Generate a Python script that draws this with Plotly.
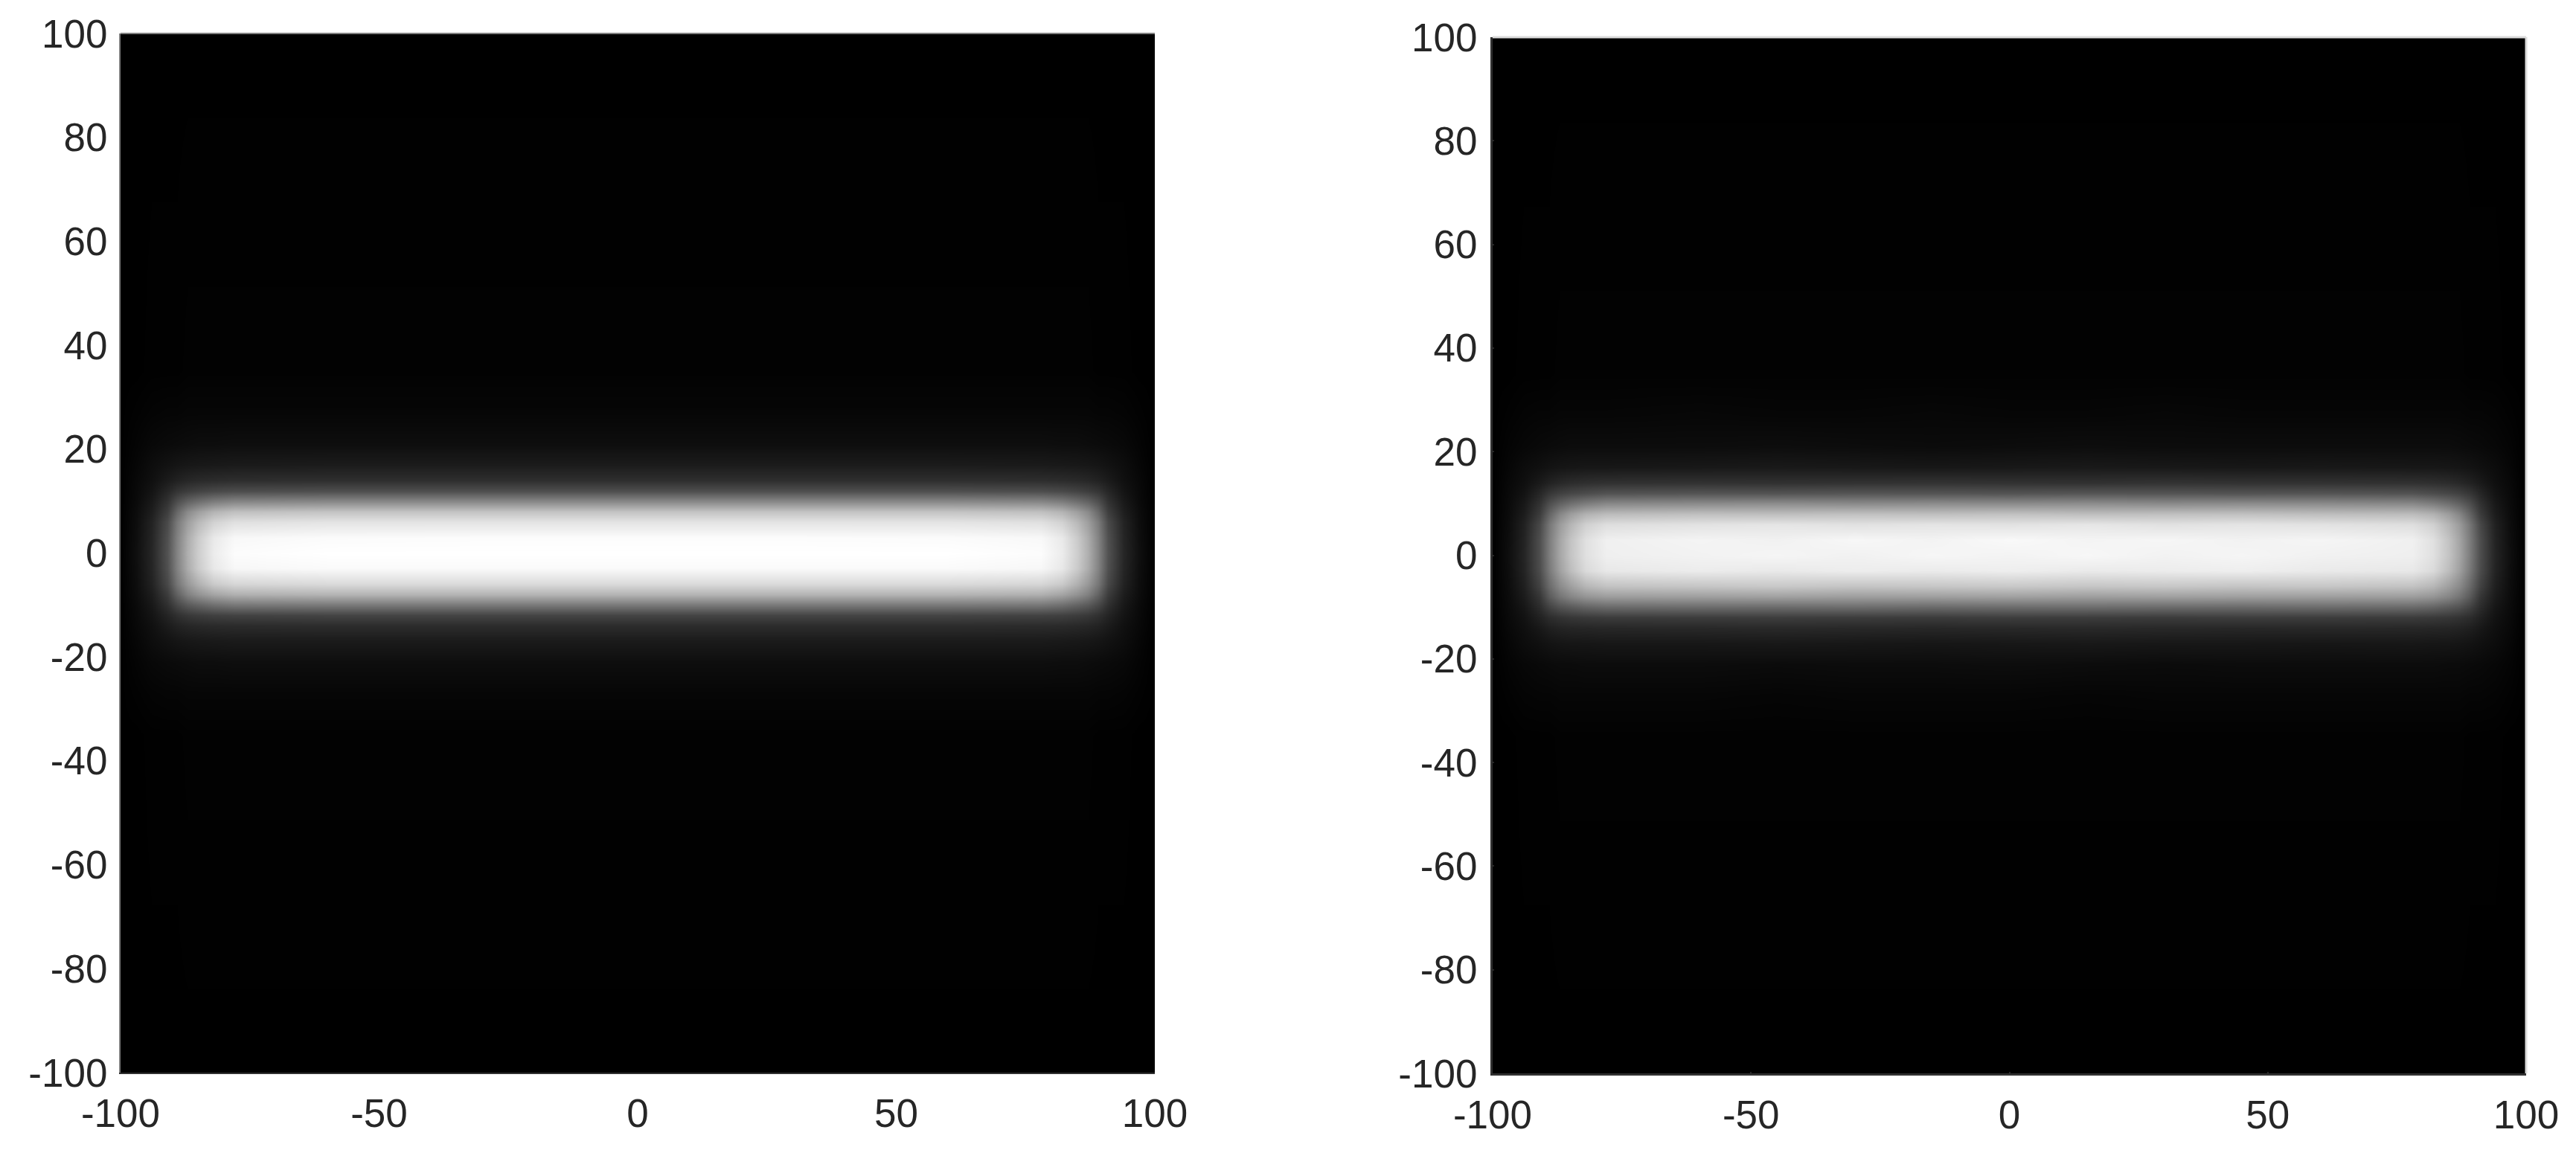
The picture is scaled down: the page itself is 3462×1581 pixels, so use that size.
import plotly.graph_objects as go

# page body adds an 8px margin, so the figure is 16px smaller than the window
W, H = 3446, 1565
PAD = 8

x_ticks = [-100, -50, 0, 50, 100]
y_ticks = [-100, -80, -60, -40, -20, 0, 20, 40, 60, 80, 100]

# grey levels (0-255), rows from y=-100 up to y=100
y_nodes = [-100, -35, -27, -21, -17, -14, -12, -10, -8, -6, -3, 0, 3, 6, 8, 10, 12, 14, 17, 21, 27, 35, 100]

# left panel
left_x = [-100, -97, -94, -91, -89, -87, -85, -82, -78, -60, -30, 0, 30, 60, 78, 82, 85, 87, 89, 91, 94, 97, 100]
left_z = [
    [0, 0, 0, 0, 0, 0, 0, 0, 0, 0, 0, 0, 0, 0, 0, 0, 0, 0, 0, 0, 0, 0, 0],
    [0, 0, 1, 1, 1, 2, 2, 2, 2, 2, 2, 2, 2, 2, 2, 2, 2, 2, 1, 1, 1, 0, 0],
    [0, 2, 4, 5, 5, 6, 6, 6, 6, 6, 6, 6, 6, 6, 6, 6, 6, 6, 5, 5, 4, 2, 0],
    [0, 4, 8, 10, 11, 12, 13, 13, 14, 14, 14, 14, 14, 14, 14, 13, 13, 12, 11, 10, 8, 4, 0],
    [0, 6, 13, 18, 21, 23, 24, 25, 26, 26, 26, 26, 26, 26, 26, 25, 24, 23, 21, 18, 13, 6, 0],
    [0, 8, 16, 27, 34, 38, 40, 42, 43, 44, 44, 44, 44, 44, 43, 42, 40, 38, 34, 27, 16, 8, 0],
    [0, 9, 20, 36, 48, 56, 60, 64, 66, 68, 68, 68, 68, 68, 66, 64, 60, 56, 48, 36, 20, 9, 0],
    [0, 10, 24, 48, 72, 90, 100, 112, 120, 122, 122, 122, 122, 122, 120, 112, 100, 90, 72, 48, 24, 10, 0],
    [0, 12, 29, 60, 98, 128, 146, 164, 176, 180, 180, 180, 180, 180, 176, 164, 146, 128, 98, 60, 29, 12, 0],
    [0, 13, 34, 72, 118, 152, 176, 202, 214, 218, 218, 218, 218, 218, 214, 202, 176, 152, 118, 72, 34, 13, 0],
    [0, 14, 37, 80, 130, 172, 202, 232, 247, 250, 250, 250, 250, 250, 247, 232, 202, 172, 130, 80, 37, 14, 0],
    [0, 15, 38, 82, 132, 175, 205, 236, 252, 255, 255, 255, 255, 255, 252, 236, 205, 175, 132, 82, 38, 15, 0],
    [0, 14, 37, 80, 130, 172, 202, 233, 248, 251, 252, 252, 252, 251, 248, 233, 202, 172, 130, 80, 37, 14, 0],
    [0, 13, 35, 74, 122, 158, 184, 210, 224, 228, 228, 228, 228, 228, 224, 210, 184, 158, 122, 74, 35, 13, 0],
    [0, 12, 30, 62, 104, 138, 158, 180, 192, 196, 196, 196, 196, 196, 192, 180, 158, 138, 104, 62, 30, 12, 0],
    [0, 10, 25, 50, 78, 98, 110, 124, 133, 136, 136, 136, 136, 136, 133, 124, 110, 98, 78, 50, 25, 10, 0],
    [0, 9, 20, 38, 52, 60, 66, 72, 76, 78, 78, 78, 78, 78, 76, 72, 66, 60, 52, 38, 20, 9, 0],
    [0, 8, 16, 27, 34, 39, 42, 44, 46, 47, 47, 47, 47, 47, 46, 44, 42, 39, 34, 27, 16, 8, 0],
    [0, 6, 13, 18, 21, 23, 24, 25, 26, 27, 27, 27, 27, 27, 26, 25, 24, 23, 21, 18, 13, 6, 0],
    [0, 4, 8, 10, 11, 12, 13, 13, 14, 14, 14, 14, 14, 14, 14, 13, 13, 12, 11, 10, 8, 4, 0],
    [0, 2, 4, 5, 5, 6, 6, 6, 6, 6, 6, 6, 6, 6, 6, 6, 6, 6, 5, 5, 4, 2, 0],
    [0, 0, 1, 1, 1, 2, 2, 2, 2, 2, 2, 2, 2, 2, 2, 2, 2, 2, 1, 1, 1, 0, 0],
    [0, 0, 0, 0, 0, 0, 0, 0, 0, 0, 0, 0, 0, 0, 0, 0, 0, 0, 0, 0, 0, 0, 0],
]

# right panel (slightly dimmer and grainy)
right_x = [-99.8, -97, -94, -91, -89, -87, -85, -82, -78, -60, -45, -30, -15, 0, 15, 30, 45, 60, 78, 82, 85, 87, 89, 91, 94, 97, 99.7]
right_z = [
    [0, 0, 0, 0, 0, 0, 0, 0, 0, 0, 0, 0, 0, 0, 0, 0, 0, 0, 0, 0, 0, 0, 0, 0, 0, 0, 0],
    [0, 0, 1, 1, 1, 2, 2, 2, 2, 2, 2, 2, 2, 2, 2, 2, 2, 2, 2, 2, 2, 2, 1, 1, 1, 0, 0],
    [0, 2, 4, 5, 5, 6, 6, 6, 6, 6, 5, 6, 6, 6, 5, 6, 6, 6, 6, 6, 6, 6, 5, 5, 4, 2, 0],
    [0, 4, 7, 9, 10, 11, 11, 12, 12, 12, 11, 12, 12, 13, 12, 11, 12, 12, 12, 12, 11, 11, 10, 9, 7, 4, 0],
    [0, 6, 12, 16, 19, 21, 22, 22, 23, 23, 24, 23, 22, 23, 24, 23, 23, 22, 23, 22, 22, 21, 19, 16, 12, 6, 0],
    [0, 8, 15, 24, 31, 35, 37, 38, 39, 40, 41, 40, 39, 40, 41, 40, 39, 40, 39, 38, 37, 35, 31, 24, 15, 8, 0],
    [0, 9, 18, 33, 44, 50, 54, 57, 59, 60, 61, 60, 59, 61, 60, 59, 61, 60, 59, 57, 54, 50, 44, 33, 18, 9, 0],
    [0, 10, 22, 44, 66, 82, 90, 100, 106, 108, 107, 109, 106, 108, 109, 107, 106, 108, 106, 100, 90, 82, 66, 44, 22, 10, 0],
    [0, 11, 27, 54, 90, 116, 132, 148, 156, 158, 160, 157, 158, 160, 157, 159, 158, 157, 156, 148, 132, 116, 90, 54, 27, 11, 0],
    [0, 12, 31, 66, 106, 138, 158, 182, 194, 197, 200, 196, 198, 200, 197, 199, 196, 198, 194, 182, 158, 138, 106, 66, 31, 12, 0],
    [0, 13, 35, 76, 121, 160, 188, 218, 232, 236, 233, 237, 235, 238, 234, 236, 238, 234, 232, 218, 188, 160, 121, 76, 35, 13, 0],
    [0, 14, 36, 78, 125, 166, 195, 224, 239, 242, 245, 241, 246, 243, 247, 242, 245, 241, 239, 224, 195, 166, 125, 78, 36, 14, 0],
    [0, 13, 35, 78, 124, 165, 194, 224, 240, 244, 241, 247, 243, 249, 244, 246, 242, 245, 240, 224, 194, 165, 124, 78, 35, 13, 0],
    [0, 12, 33, 72, 118, 155, 180, 208, 222, 226, 229, 225, 228, 226, 230, 225, 228, 226, 222, 208, 180, 155, 118, 72, 33, 12, 0],
    [0, 11, 28, 60, 100, 134, 156, 178, 188, 192, 190, 193, 191, 194, 190, 192, 193, 190, 188, 178, 156, 134, 100, 60, 28, 11, 0],
    [0, 10, 24, 50, 78, 98, 112, 126, 137, 140, 142, 139, 141, 140, 142, 139, 141, 140, 137, 126, 112, 98, 78, 50, 24, 10, 0],
    [0, 9, 19, 38, 54, 64, 70, 76, 82, 84, 83, 85, 84, 83, 85, 84, 83, 84, 82, 76, 70, 64, 54, 38, 19, 9, 0],
    [0, 8, 15, 26, 34, 40, 44, 47, 49, 50, 49, 50, 51, 50, 49, 51, 50, 50, 49, 47, 44, 40, 34, 26, 15, 8, 0],
    [0, 6, 12, 16, 19, 21, 22, 23, 23, 24, 25, 24, 23, 24, 25, 24, 23, 24, 23, 23, 22, 21, 19, 16, 12, 6, 0],
    [0, 4, 7, 9, 10, 11, 12, 12, 12, 12, 13, 12, 11, 12, 13, 12, 12, 12, 12, 12, 12, 11, 10, 9, 7, 4, 0],
    [0, 2, 4, 5, 5, 6, 6, 6, 6, 7, 6, 6, 7, 6, 6, 7, 6, 6, 6, 6, 6, 6, 5, 5, 4, 2, 0],
    [0, 0, 1, 1, 1, 2, 2, 2, 2, 2, 2, 2, 2, 2, 2, 2, 2, 2, 2, 2, 2, 2, 1, 1, 1, 0, 0],
    [0, 0, 0, 0, 0, 0, 0, 0, 0, 0, 0, 0, 0, 0, 0, 0, 0, 0, 0, 0, 0, 0, 0, 0, 0, 0, 0],
]
right_y = [-99.8] + y_nodes[1:-1] + [99.6]

GREY = [[0, '#000000'], [1, '#ffffff']]
TEXT = '#262626'
FONT = dict(family='Liberation Sans, Arial, sans-serif', size=53, color=TEXT)

fig = go.Figure()
fig.add_trace(go.Heatmap(x=left_x, y=y_nodes, z=left_z, xaxis='x', yaxis='y', zmin=0, zmax=255,
                         colorscale=GREY, zsmooth='best', showscale=False))
fig.add_trace(go.Heatmap(x=right_x, y=right_y, z=right_z, xaxis='x2', yaxis='y2', zmin=0, zmax=255,
                         colorscale=GREY, zsmooth='best', showscale=False))


def xdom(a, b):
    return [(a - PAD) / W, (b - PAD) / W]


def ydom(top, bottom):
    return [1 - (bottom - PAD) / H, 1 - (top - PAD) / H]


def axis(vals, domain, anchor, line_color, line_width, standoff, ticklen):
    return dict(domain=domain, anchor=anchor, range=[-100, 100], tickmode='array', tickvals=vals,
                ticktext=[str(v) for v in vals], ticks='inside' if ticklen else '', ticklen=ticklen,
                tickwidth=2, tickcolor=TEXT,
                showgrid=False, zeroline=False, showline=True, linecolor=line_color, linewidth=line_width,
                tickfont=FONT, ticklabelstandoff=standoff, automargin=False)


fig.update_layout(
    width=W, height=H, autosize=False,
    margin=dict(l=0, r=0, t=0, b=0),
    paper_bgcolor='white', plot_bgcolor='white',
    xaxis=axis(x_ticks, xdom(162, 1552), 'y', '#303030', 2, 7, 0),
    yaxis=axis(y_ticks, ydom(45, 1442), 'x', '#808080', 2, 5, 0),
    xaxis2=axis(x_ticks, xdom(2006, 3395), 'y2', '#303030', 3, 7, 2),
    yaxis2=axis(y_ticks, ydom(50, 1443), 'x2', '#303030', 3, 7, 2),
    shapes=[
        dict(type='line', xref='x domain', yref='y domain', x0=0, x1=1, y0=1, y1=1,
             line=dict(color='#808080', width=2)),
        dict(type='line', xref='x2 domain', yref='y2 domain', x0=0, x1=1, y0=1, y1=1,
             line=dict(color='#dcdcdc', width=3)),
        dict(type='line', xref='x2 domain', yref='y2 domain', x0=1, x1=1, y0=0, y1=1,
             line=dict(color='#dcdcdc', width=3)),
    ],
)

fig.write_html("out.html")
